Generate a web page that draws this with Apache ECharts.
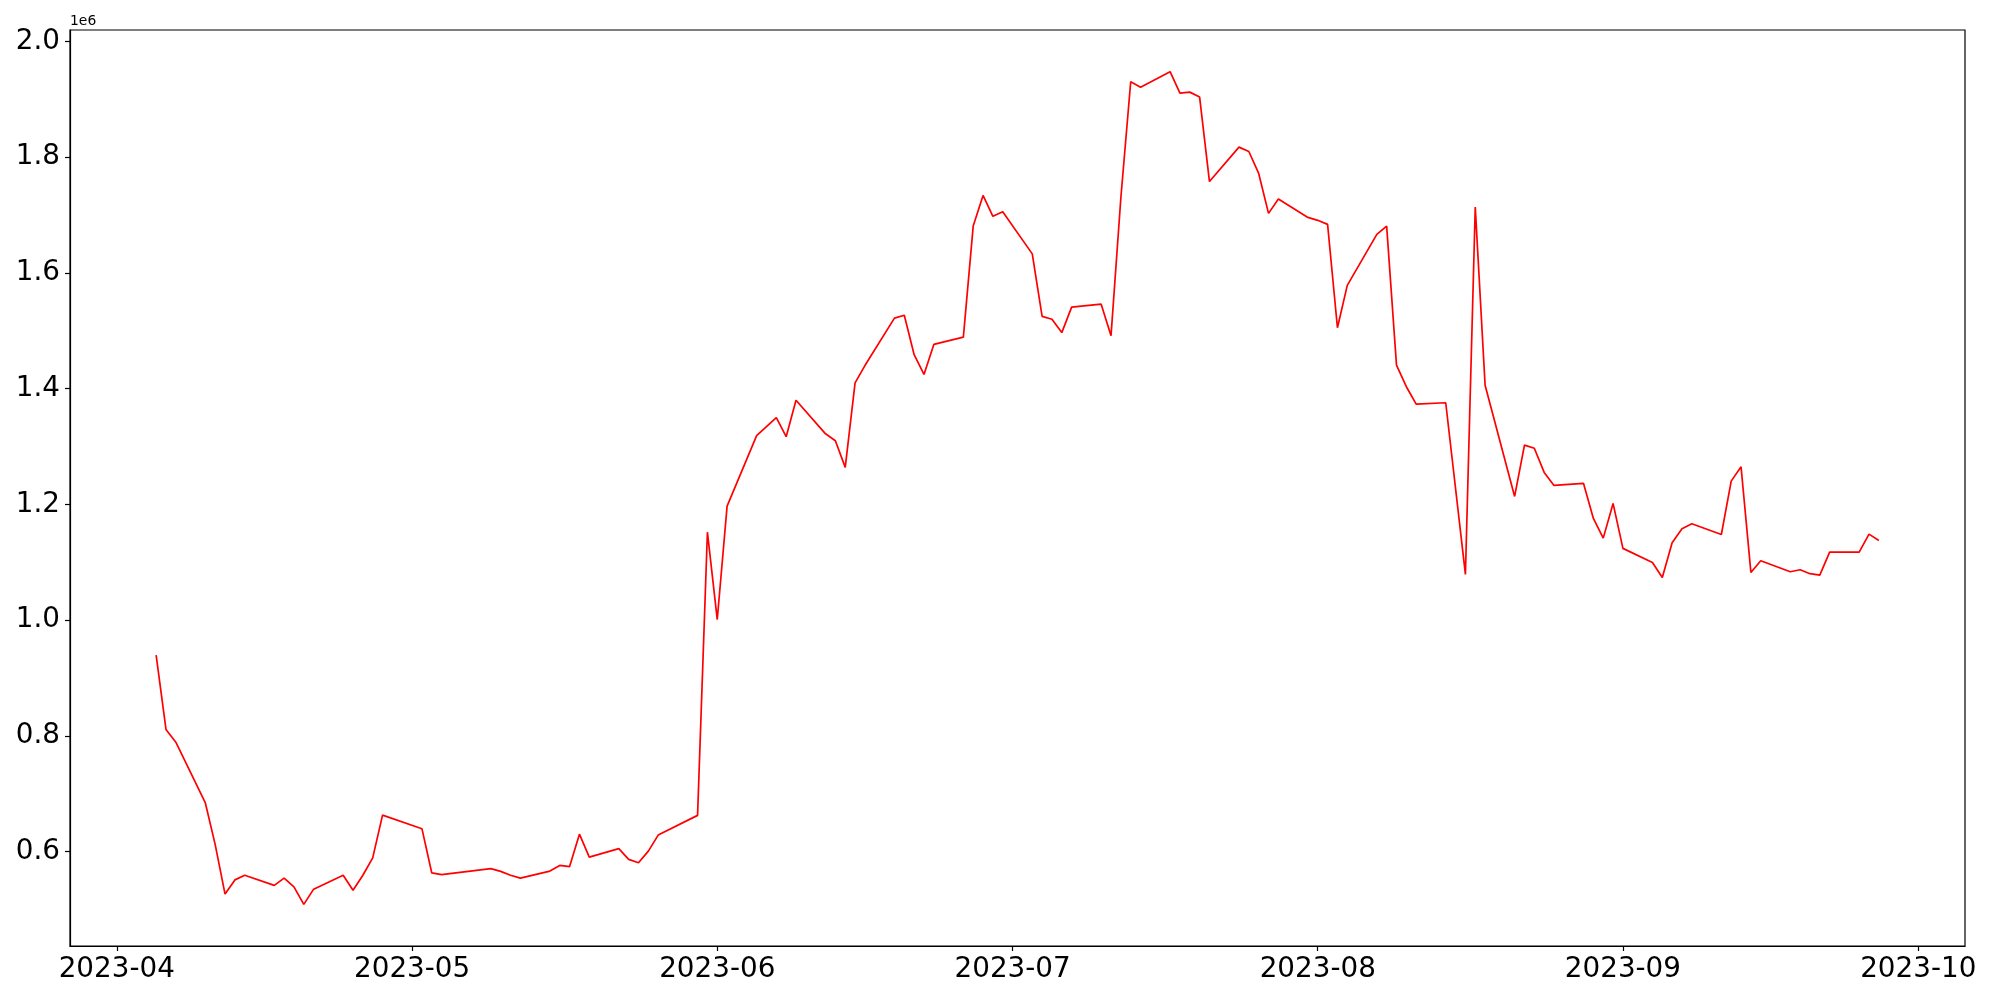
<!DOCTYPE html>
<html>
<head>
<meta charset="utf-8">
<script src="https://cdn.jsdelivr.net/npm/echarts@6/dist/echarts.min.js"></script>
<style>
html,body{margin:0;padding:0;background:#fff;}
#chart{width:2000px;height:1000px;}
</style>
</head>
<body>
<div id="chart"></div>
<script>
const dates = [
'2023-04-05','2023-04-06','2023-04-07','2023-04-10','2023-04-11','2023-04-12','2023-04-13','2023-04-14',
'2023-04-17','2023-04-18','2023-04-19','2023-04-20','2023-04-21','2023-04-24','2023-04-25','2023-04-26',
'2023-04-27','2023-04-28','2023-05-02','2023-05-03','2023-05-04','2023-05-09','2023-05-10','2023-05-11',
'2023-05-12','2023-05-15','2023-05-16','2023-05-17','2023-05-18','2023-05-19','2023-05-22','2023-05-23',
'2023-05-24','2023-05-25','2023-05-26','2023-05-30','2023-05-31','2023-06-01','2023-06-02','2023-06-05',
'2023-06-07','2023-06-08','2023-06-09','2023-06-12','2023-06-13','2023-06-14','2023-06-15','2023-06-16',
'2023-06-19','2023-06-20','2023-06-21','2023-06-22','2023-06-23','2023-06-26','2023-06-27','2023-06-28',
'2023-06-29','2023-06-30','2023-07-03','2023-07-04','2023-07-05','2023-07-06','2023-07-07','2023-07-10',
'2023-07-11','2023-07-12','2023-07-13','2023-07-14','2023-07-17','2023-07-18','2023-07-19','2023-07-20',
'2023-07-21','2023-07-24','2023-07-25','2023-07-26','2023-07-27','2023-07-28','2023-07-31','2023-08-01',
'2023-08-02','2023-08-03','2023-08-04','2023-08-07','2023-08-08','2023-08-09','2023-08-10','2023-08-11',
'2023-08-14','2023-08-16','2023-08-17','2023-08-18','2023-08-21','2023-08-22','2023-08-23','2023-08-24',
'2023-08-25','2023-08-28','2023-08-29','2023-08-30','2023-08-31','2023-09-01','2023-09-04','2023-09-05',
'2023-09-06','2023-09-07','2023-09-08','2023-09-11','2023-09-12','2023-09-13','2023-09-14','2023-09-15',
'2023-09-18','2023-09-19','2023-09-20','2023-09-21','2023-09-22','2023-09-25','2023-09-26','2023-09-27'
];
const values = [
939500,811000,789000,684000,612000,526500,551000,559000,
541500,554000,539000,508700,535000,559000,533000,559000,
589000,663000,639500,563000,560000,570400,565700,559000,
554000,566200,576000,574000,630000,590400,605000,586400,
580700,600800,628400,662500,1152000,1001000,1197000,1319000,
1350000,1317000,1380000,1322000,1310000,1264000,1410000,1440000,
1522000,1527000,1458700,1424600,1476500,1489000,1681000,1734000,
1698000,1706000,1633000,1525000,1520000,1497000,1541000,1546000,
1491500,1730000,1930500,1921000,1948000,1911000,1912600,1904000,
1758000,1817500,1810000,1772000,1703000,1728000,1696000,1691000,
1684000,1505400,1578500,1666600,1681000,1440700,1403400,1373300,
1375700,1079000,1714000,1406000,1213800,1302500,1297000,1255300,
1232800,1236300,1175800,1141700,1201700,1124000,1099700,1073800,
1133800,1158000,1166600,1148000,1240200,1265000,1082400,1102700,
1083600,1087100,1080200,1077800,1117500,1117500,1148600,1137700
];
const yTicks = [600000,800000,1000000,1200000,1400000,1600000,1800000,2000000];
const xTickMonths = ['2023-04','2023-05','2023-06','2023-07','2023-08','2023-09','2023-10'];

function monthTs(s){const p=s.split('-');return Date.UTC(+p[0],+p[1]-1,1);}
function dayTs(s){const p=s.split('-');return Date.UTC(+p[0],+p[1]-1,+p[2]);}
const xTicks = xTickMonths.map(monthTs);
const tickLabelMap = {};
xTickMonths.forEach((m,i)=>{tickLabelMap[xTicks[i]] = m;});
const seriesData = dates.map((d,i)=>[dayTs(d), values[i]]);

const t0 = dayTs(dates[0]), t1 = dayTs(dates[dates.length-1]);
const xPad = (t1-t0)*0.05;
const vmin = Math.min(...values), vmax = Math.max(...values);
const yPad = (vmax-vmin)*0.05;

const chart = echarts.init(document.getElementById('chart'), null, {renderer:'canvas'});
const FONT = 'DejaVu Sans';
chart.setOption({
  animation:false,
  backgroundColor:'#fff',
  grid:{left:70,right:35,top:30,bottom:54,show:true,borderColor:'#000',borderWidth:1.2,backgroundColor:'transparent'},
  xAxis:{
    type:'value',
    min:t0-xPad, max:t1+xPad,
    splitLine:{show:false},
    axisLine:{show:true,onZero:false,lineStyle:{color:'#000',width:1.2}},
    axisTick:{show:true,length:5,lineStyle:{color:'#000',width:1.2},customValues:xTicks},
    axisLabel:{customValues:xTicks,color:'#000',fontFamily:FONT,fontSize:27.8,margin:10,
      formatter:function(v){return tickLabelMap[v] || '';}}
  },
  yAxis:{
    type:'value',
    min:vmin-yPad, max:vmax+yPad,
    splitLine:{show:false},
    axisLine:{show:true,onZero:false,lineStyle:{color:'#000',width:1.2}},
    axisTick:{show:true,length:5,lineStyle:{color:'#000',width:1.2},customValues:yTicks},
    axisLabel:{customValues:yTicks,color:'#000',fontFamily:FONT,fontSize:27.8,margin:10,
      formatter:function(v){return (v/1e6).toFixed(1);} }
  },
  graphic:[{type:'text',left:70,top:14,style:{text:'1e6',fontFamily:FONT,fontSize:13.9,fill:'#000'}}],
  series:[{
    type:'line',
    data:seriesData,
    showSymbol:false,
    symbol:'none',
    lineStyle:{color:'#ff0000',width:1.7},
    itemStyle:{color:'#ff0000'}
  }]
});
</script>
</body>
</html>
